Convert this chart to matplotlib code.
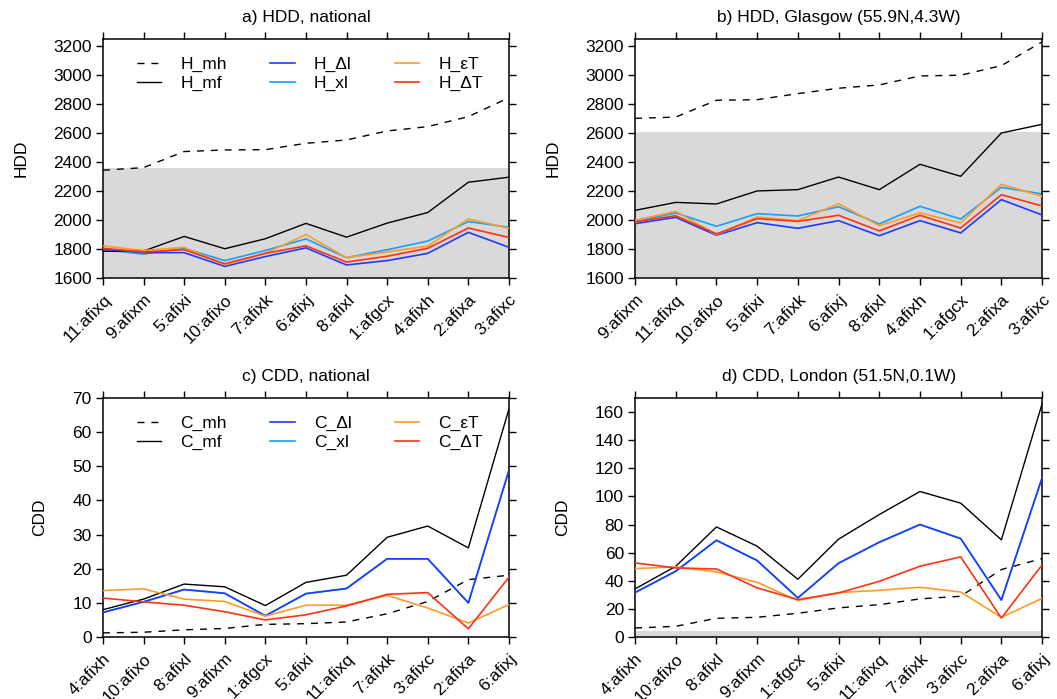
import matplotlib
matplotlib.use("Agg")
import matplotlib.pyplot as plt

plt.rcParams['font.family'] = ['Liberation Sans', 'DejaVu Sans']
plt.rcParams['font.size'] = 12.5

# panel a) HDD, national
a_labels = ['11:afixq', '9:afixm', '5:afixi', '10:afixo', '7:afixk', '6:afixj',
            '8:afixl', '1:afgcx', '4:afixh', '2:afixa', '3:afixc']
a_mh = [2344, 2362, 2473, 2484, 2486, 2530, 2553, 2615, 2645, 2714, 2845]
a_mf = [1784, 1786, 1887, 1802, 1871, 1977, 1882, 1979, 2052, 2261, 2296]
a_dl = [1800, 1775, 1775, 1680, 1748, 1808, 1690, 1720, 1770, 1915, 1812]
a_xl = [1795, 1765, 1805, 1720, 1790, 1870, 1740, 1795, 1855, 1990, 1950]
a_et = [1822, 1790, 1812, 1690, 1770, 1900, 1740, 1780, 1820, 2008, 1943]
a_dt = [1805, 1780, 1795, 1698, 1770, 1822, 1710, 1750, 1805, 1945, 1880]

# panel b) HDD, Glasgow
b_labels = ['9:afixm', '11:afixq', '10:afixo', '5:afixi', '7:afixk', '6:afixj',
            '8:afixl', '4:afixh', '1:afgcx', '2:afixa', '3:afixc']
b_mh = [2702, 2711, 2827, 2831, 2873, 2910, 2933, 2995, 3000, 3066, 3230]
b_mf = [2067, 2122, 2111, 2201, 2210, 2297, 2210, 2385, 2302, 2601, 2661]
b_dl = [1975, 2019, 1895, 1982, 1943, 1996, 1892, 1996, 1911, 2141, 2035]
b_xl = [1991, 2049, 1957, 2044, 2028, 2092, 1973, 2095, 2007, 2226, 2180]
b_et = [1998, 2060, 1899, 2021, 1996, 2113, 1961, 2049, 1980, 2247, 2164]
b_dt = [1987, 2030, 1904, 2010, 1991, 2033, 1925, 2033, 1945, 2175, 2097]

# panel c) CDD, national
c_labels = ['4:afixh', '10:afixo', '8:afixl', '9:afixm', '1:afgcx', '5:afixi',
            '11:afixq', '7:afixk', '3:afixc', '2:afixa', '6:afixj']
c_mh = [1.2, 1.4, 2.1, 2.5, 3.7, 3.9, 4.4, 6.8, 10.4, 16.8, 18.1]
c_mf = [8.0, 11.1, 15.5, 14.7, 9.2, 16.0, 18.1, 29.2, 32.5, 26.1, 66.8]
c_dl = [7.2, 10.3, 13.9, 12.8, 6.2, 12.7, 14.2, 22.9, 22.9, 10.0, 48.8]
c_xl = [7.2, 10.3, 13.9, 12.8, 6.2, 12.7, 14.2, 22.9, 22.9, 10.0, 48.8]
c_et = [13.6, 14.1, 11.1, 10.4, 6.1, 9.3, 9.3, 12.2, 8.5, 4.1, 9.5]
c_dt = [11.4, 10.3, 9.3, 7.4, 5.0, 6.5, 9.1, 12.5, 13.0, 2.4, 17.5]

# panel d) CDD, London
d_labels = c_labels
d_mh = [6.4, 7.6, 13.3, 14.0, 16.9, 20.7, 23.0, 27.1, 29.0, 48.0, 55.8]
d_mf = [34.2, 50.3, 78.3, 64.6, 41.1, 69.6, 87.1, 103.5, 95.2, 69.1, 165.9]
d_dl = [31.6, 46.8, 68.8, 54.4, 27.8, 52.5, 67.4, 80.0, 70.0, 26.3, 113.2]
d_xl = [31.6, 46.8, 68.8, 54.4, 27.8, 52.5, 67.4, 80.0, 70.0, 26.3, 113.2]
d_et = [48.7, 49.9, 46.3, 38.9, 25.9, 31.6, 33.2, 35.4, 32.0, 14.0, 27.5]
d_dt = [52.7, 49.1, 48.4, 34.9, 26.6, 31.3, 39.6, 50.3, 57.0, 13.5, 51.3]

# grey band (upper edge), None = no band
shade_top = [2360, 2610, None, 4]

titles = ['a) HDD, national', 'b) HDD, Glasgow (55.9N,4.3W)',
          'c) CDD, national', 'd) CDD, London (51.5N,0.1W)']

col_dl = '#1e3cff'
col_xl = '#14a0ff'
col_et = '#ff9b28'
col_dt = '#ff3214'

fig = plt.figure(figsize=(10.57, 6.99), dpi=100)
boxes = [[0.0974, 0.6023, 0.3841, 0.3419], [0.6008, 0.6023, 0.3851, 0.3419],
         [0.0974, 0.0887, 0.3841, 0.3419], [0.6008, 0.0887, 0.3851, 0.3419]]

panels = [
    (a_labels, a_mh, a_mf, a_dl, a_xl, a_et, a_dt, 'H', 'HDD', (1600, 3250), range(1600, 3201, 200)),
    (b_labels, b_mh, b_mf, b_dl, b_xl, b_et, b_dt, 'H', 'HDD', (1600, 3250), range(1600, 3201, 200)),
    (c_labels, c_mh, c_mf, c_dl, c_xl, c_et, c_dt, 'C', 'CDD', (0, 70), range(0, 71, 10)),
    (d_labels, d_mh, d_mf, d_dl, d_xl, d_et, d_dt, 'C', 'CDD', (0, 170), range(0, 161, 20)),
]

for i, (labels, mh, mf, dl, xl, et, dt, p, ylab, ylim, yt) in enumerate(panels):
    ax = fig.add_axes(boxes[i])
    x = list(range(len(labels)))
    if shade_top[i] is not None:
        ax.axhspan(ylim[0], shade_top[i], color='#d9d9d9', lw=0, zorder=0)
    ax.plot(x, mh, color='black', lw=1, dashes=(5, 5), label=p + '_mh', zorder=3)
    ax.plot(x, mf, color='black', lw=1, label=p + '_mf', zorder=3)
    ax.plot(x, dl, color=col_dl, lw=1.2, label=p + '_Δl', zorder=3)
    ax.plot(x, xl, color=col_xl, lw=1.2, label=p + '_xl', zorder=2)
    ax.plot(x, et, color=col_et, lw=1.2, label=p + '_εT', zorder=3)
    ax.plot(x, dt, color=col_dt, lw=1.2, label=p + '_ΔT', zorder=3)

    ax.set_xlim(0, len(labels) - 1)
    ax.set_ylim(*ylim)
    ax.set_yticks(list(yt))
    ax.set_xticks(x)
    ax.set_xticklabels(labels, rotation=45, ha='right', rotation_mode='anchor')
    ax.tick_params(direction='out', length=5, width=1, top=True, right=True,
                   labelsize=12.5, pad=3)
    ax.tick_params(axis='x', pad=5)
    ax.set_ylabel(ylab, fontsize=12.5, labelpad=18)
    ax.set_title(titles[i], fontsize=12.5, pad=12)
    for s in ax.spines.values():
        s.set_linewidth(1.1)

    if i in (0, 2):
        ax.legend(ncol=3, frameon=False, loc='upper center',
                  bbox_to_anchor=(0.51, 0.99), handlelength=1.4,
                  handletextpad=1.1, columnspacing=2.5, labelspacing=0.2,
                  fontsize=12.5)

fig.savefig('out.png', dpi=100)
